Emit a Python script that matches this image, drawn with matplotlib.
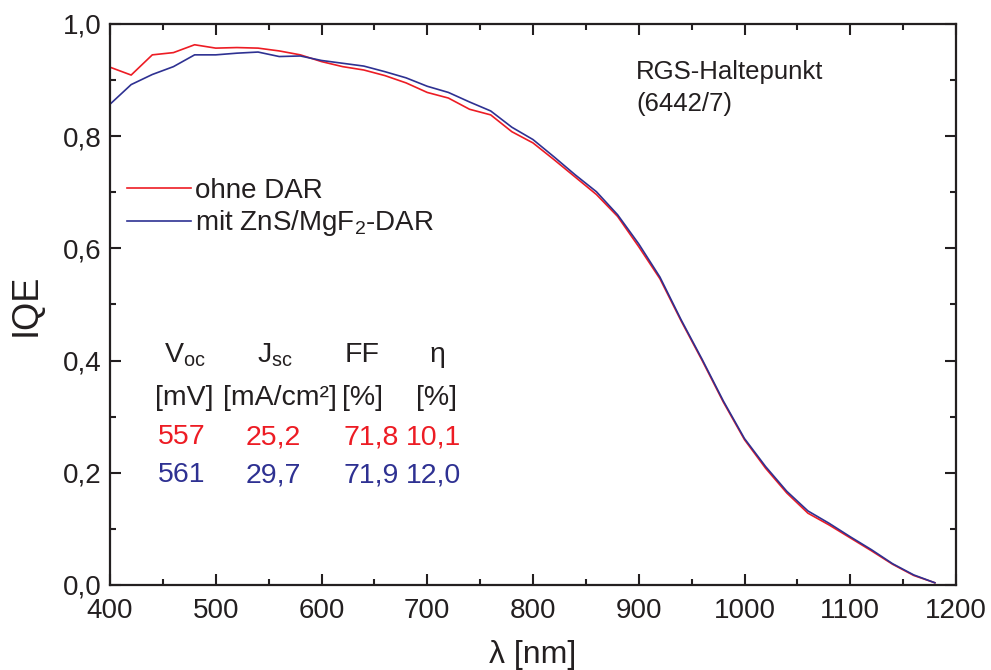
import matplotlib
matplotlib.use("Agg")
import matplotlib.pyplot as plt
from matplotlib.ticker import MultipleLocator, FuncFormatter

plt.rcParams['font.family'] = ['Liberation Sans', 'DejaVu Sans']
plt.rcParams['mathtext.fontset'] = 'custom'
plt.rcParams['mathtext.rm'] = 'Liberation Sans'
plt.rcParams['mathtext.it'] = 'Liberation Sans:italic'

# Wavelength grid (nm) and internal quantum efficiency of both cells
wavelength = [400, 420, 440, 460, 480, 500, 520, 540, 560, 580,
              600, 620, 640, 660, 680, 700, 720, 740, 760, 780,
              800, 820, 840, 860, 880, 900, 920, 940, 960, 980,
              1000, 1020, 1040, 1060, 1080, 1100, 1120, 1140, 1160, 1180]
iqe_ohne = [0.923, 0.909, 0.945, 0.949, 0.963, 0.957, 0.958, 0.957, 0.952, 0.945,
            0.933, 0.924, 0.918, 0.908, 0.895, 0.878, 0.868, 0.848, 0.838, 0.808,
            0.788, 0.758, 0.727, 0.696, 0.657, 0.603, 0.546, 0.471, 0.400, 0.326,
            0.259, 0.208, 0.164, 0.128, 0.107, 0.084, 0.061, 0.037, 0.017, 0.004]
iqe_mit = [0.857, 0.892, 0.910, 0.924, 0.945, 0.945, 0.948, 0.950, 0.942, 0.943,
           0.935, 0.930, 0.925, 0.915, 0.904, 0.889, 0.878, 0.861, 0.845, 0.816,
           0.794, 0.763, 0.731, 0.701, 0.660, 0.608, 0.549, 0.473, 0.402, 0.328,
           0.261, 0.211, 0.167, 0.132, 0.110, 0.086, 0.063, 0.038, 0.018, 0.004]

label_ohne = "ohne DAR"
label_mit = r"mit ZnS/MgF$_2$-DAR"

# Cell parameters table
table_header = [r"V$_{\mathregular{oc}}$", r"J$_{\mathregular{sc}}$", "FF", "η"]
table_units = ["[mV]", "[mA/cm²]", "[%]", "[%]"]
values_ohne = ["557", "25,2", "71,8", "10,1"]
values_mit = ["561", "29,7", "71,9", "12,0"]

RED = "#ED1C24"
BLUE = "#2E3192"
INK = "#231F20"

fig = plt.figure(figsize=(9.91, 6.70), dpi=100)
W, H = 991, 670
x0, x1, y0, y1 = 110, 956, 24, 585
ax = fig.add_axes([x0 / W, 1 - y1 / H, (x1 - x0) / W, (y1 - y0) / H])

ax.plot(wavelength, iqe_ohne, color=RED, lw=1.2, label=label_ohne)
ax.plot(wavelength, iqe_mit, color=BLUE, lw=1.2, label=label_mit)

ax.set_xlim(400, 1200)
ax.set_ylim(0.0, 1.0)
ax.xaxis.set_major_locator(MultipleLocator(100))
ax.xaxis.set_minor_locator(MultipleLocator(50))
ax.yaxis.set_major_locator(MultipleLocator(0.2))
ax.yaxis.set_minor_locator(MultipleLocator(0.1))
ax.yaxis.set_major_formatter(FuncFormatter(lambda v, p: f"{v:.1f}".replace(".", ",")))
ax.tick_params(which='both', direction='in', top=True, right=True, width=1.5,
               labelsize=20, colors=INK)
ax.tick_params(which='major', length=8)
ax.tick_params(which='minor', length=4.5)
ax.tick_params(axis='x', pad=9)
ax.tick_params(axis='y', pad=6)
for s in ax.spines.values():
    s.set_linewidth(1.6)
    s.set_color(INK)

ax.set_xlabel("λ [nm]", fontsize=23, labelpad=12, color=INK)
ax.set_ylabel("IQE", fontsize=26, labelpad=14, color=INK)

leg = ax.legend(loc='upper left', bbox_to_anchor=(-0.006, 0.765), frameon=False,
                fontsize=20, handlelength=2.3, handletextpad=0.15,
                labelspacing=0.15, borderaxespad=0.4)
for t in leg.get_texts():
    t.set_color(INK)


def px_to_data(px, py):
    lam = 400 + (px - x0) * 800 / (x1 - x0)
    val = (y1 - py) / (y1 - y0)
    return lam, val


ax.text(*px_to_data(636, 72), "RGS-Haltepunkt", fontsize=18.5, va='center',
        ha='left', color=INK)
ax.text(*px_to_data(636, 104), "(6442/7)", fontsize=18.5, va='center',
        ha='left', color=INK)

col_header_x = [185, 275, 362, 437]
col_unit_x = [184, 280, 363, 437]
col_val_x = [182, 273, 371, 433]
rows = [
    (table_header, col_header_x, 355, INK),
    (table_units, col_unit_x, 398, INK),
    (values_ohne, col_val_x, 437, RED),
    (values_mit, col_val_x, 475, BLUE),
]
for texts, xs, py, col in rows:
    for t, px in zip(texts, xs):
        ax.text(*px_to_data(px, py), t, fontsize=20.5, ha='center', va='center',
                color=col)

fig.savefig("out.png", dpi=100)
